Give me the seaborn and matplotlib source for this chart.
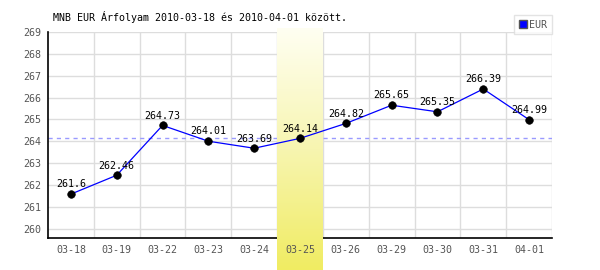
import numpy as np
import pandas as pd
import matplotlib
matplotlib.use("Agg")
import matplotlib.pyplot as plt
from matplotlib.patches import Patch
from matplotlib.colors import LinearSegmentedColormap
import seaborn as sns

dates = ["03-18", "03-19", "03-22", "03-23", "03-24", "03-25",
         "03-26", "03-29", "03-30", "03-31", "04-01"]
rates = [261.6, 262.46, 264.73, 264.01, 263.69, 264.14,
         264.82, 265.65, 265.35, 266.39, 264.99]
rate_labels = ["261.6", "262.46", "264.73", "264.01", "263.69", "264.14",
               "264.82", "265.65", "265.35", "266.39", "264.99"]
highlight_date = "03-25"
ref_level = 264.14
yticks = [260, 261, 262, 263, 264, 265, 266, 267, 268, 269]
title = "MNB EUR Árfolyam 2010-03-18 és 2010-04-01 között."
series_name = "EUR"

df = pd.DataFrame({"date": dates, "rate": rates})

sns.set_style("white")
plt.rcParams["font.family"] = ["DejaVu Sans Mono"]

fig = plt.figure(figsize=(6, 2.7), dpi=100)
ax = fig.add_axes([48/600, 1-238/270, 504/600, (238-31.7)/270])

ylo, yhi = 259.6, 269.0
ppu = (238-31.7) / (yhi - ylo)

# grid
for y in yticks:
    ax.axhline(y, color="#dddddd", lw=1, zorder=0.5)
for xg in np.arange(0.5, len(dates), 1.0):
    ax.axvline(xg, color="#dddddd", lw=1, zorder=0.5)

ax.axhline(ref_level, color="#9a9aff", lw=1, ls=(0, (3, 3)), zorder=0.8)

# highlight band with gradient (pale top, yellow bottom), extending below the axis
hi = dates.index(highlight_date)
grad = np.linspace(0, 1, 256).reshape(-1, 1)
cmap = LinearSegmentedColormap.from_list("yel", ["#fffff2", "#f7f5b0", "#f0ec62"])
band_bottom = ylo - (270-238) / ppu
band_top = yhi + (31.7-28) / ppu
ax.imshow(grad, extent=[hi-0.5, hi+0.5, band_bottom, band_top], cmap=cmap,
          aspect="auto", origin="upper", clip_on=False, zorder=1)

sns.lineplot(data=df, x="date", y="rate", color="#0000ff", lw=0.9, ax=ax,
             zorder=2, legend=False)
sns.scatterplot(data=df, x="date", y="rate", color="black", s=30,
                edgecolor="black", ax=ax, zorder=3, legend=False)

for i, (r, lab) in enumerate(zip(rates, rate_labels)):
    ax.annotate(lab, (i, r), xytext=(0, 7), textcoords="offset points",
                ha="center", va="center", fontsize=7.2, color="black", zorder=4)

ax.set_xlim(-0.5, len(dates) - 0.5)
ax.set_ylim(ylo, yhi)
ax.set_yticks(yticks)
ax.set_yticklabels([str(t) for t in yticks])
ax.set_xticks(range(len(dates)))
ax.set_xticklabels(dates)
ax.set_axisbelow(False)
ax.tick_params(axis="both", length=0, labelsize=7.2, labelcolor="#555555")
ax.tick_params(axis="y", pad=5)
ax.tick_params(axis="x", pad=5)
ax.set_xlabel("")
ax.set_ylabel("")
for s in ["top", "right"]:
    ax.spines[s].set_visible(False)
for s in ["left", "bottom"]:
    ax.spines[s].set_color("black")
    ax.spines[s].set_linewidth(1.2)
    ax.spines[s].set_zorder(0.9)
ax.set_facecolor("none")

fig.text(53/600, 1-17/270, title, ha="left", va="center", fontsize=7.2, color="black")

leg = fig.legend(handles=[Patch(facecolor="#0000ff", edgecolor="#555555")],
                 labels=[series_name], loc="upper right",
                 bbox_to_anchor=(552/600, 1-15/270), frameon=True, fancybox=False,
                 fontsize=7.2, handlelength=0.8, handleheight=0.8, handletextpad=0.3,
                 borderpad=0.45, borderaxespad=0)
leg.get_frame().set_edgecolor("#dddddd")
leg.get_frame().set_linewidth(1)
for t in leg.get_texts():
    t.set_color("#555555")

fig.savefig("out.png", dpi=100)
